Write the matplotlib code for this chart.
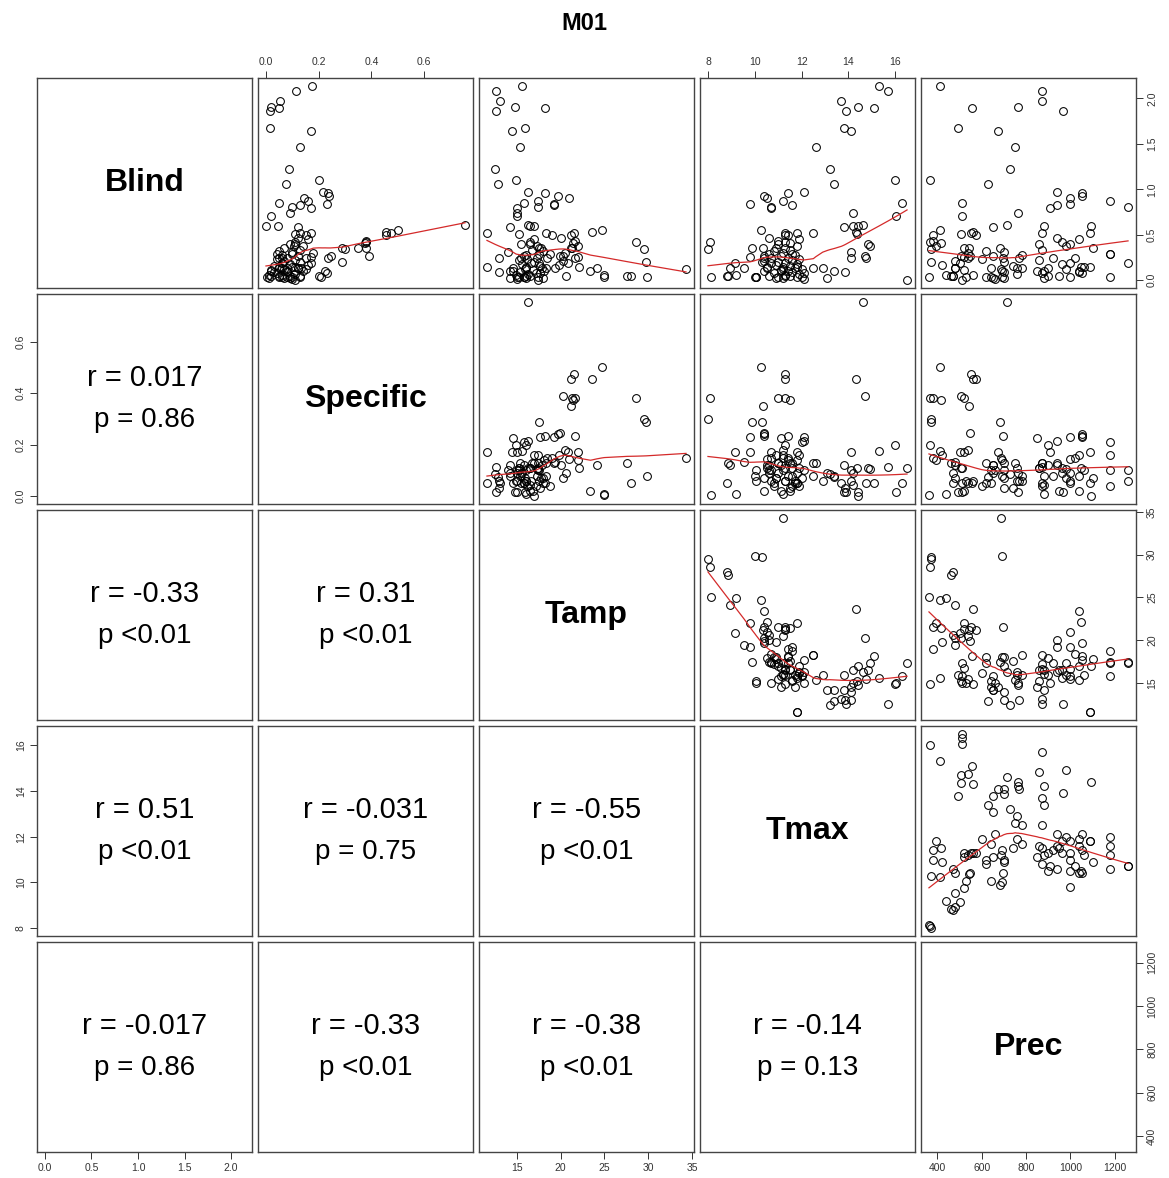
import numpy as np
import matplotlib
matplotlib.use("Agg")
import matplotlib.pyplot as plt

# ---------------- data ----------------
var_names = ["Blind", "Specific", "Tamp", "Tmax", "Prec"]

blind = [2.14, 2.08, 1.97, 1.91, 1.89, 1.86, 1.67, 1.64, 1.47, 1.22, 1.10, 1.06,
         0.97, 0.96, 0.93, 0.90, 0.87, 0.85, 0.84, 0.83, 0.81, 0.80, 0.74, 0.71,
         0.61, 0.60, 0.60, 0.59,
         0.55, 0.52, 0.50, 0.53, 0.27, 0.42, 0.43, 0.41, 0.35, 0.35, 0.34, 0.20,
         0.35, 0.27, 0.24, 0.10, 0.05, 0.08, 0.04,
         0.51, 0.40, 0.38, 0.31, 0.24, 0.24, 0.085, 0.00,
         0.52, 0.13, 0.13, 0.02, 0.10,
         0.03, 0.05, 0.05, 0.14, 0.19, 0.13, 0.26, 0.03, 0.03, 0.03,
         0.50, 0.47, 0.45, 0.42, 0.40, 0.38, 0.36, 0.33, 0.32, 0.30, 0.29, 0.28,
         0.27, 0.25, 0.24, 0.23, 0.22, 0.21, 0.20, 0.19, 0.18, 0.17, 0.16, 0.15,
         0.14, 0.13, 0.12, 0.11, 0.10, 0.09, 0.08, 0.07, 0.06, 0.05, 0.05, 0.04,
         0.03, 0.02, 0.02, 0.01, 0.29, 0.19,
         0.52, 0.15, 0.12, 0.06, 0.10, 0.15]

specific = [0.175, 0.113, 0.052, 0.018, 0.050, 0.017, 0.015, 0.170, 0.128, 0.087, 0.200, 0.075,
            0.215, 0.235, 0.240, 0.143, 0.160, 0.050, 0.230, 0.130, 0.100, 0.170, 0.090, 0.018,
            0.755, 0.000, 0.045, 0.120,
            0.500, 0.475, 0.455, 0.455, 0.390, 0.380, 0.380, 0.375, 0.380, 0.350, 0.300, 0.290,
            0.290, 0.245, 0.235, 0.225, 0.200, 0.230, 0.210,
            0.110, 0.110, 0.105, 0.100, 0.060, 0.050, 0.030, 0.110,
            0.130, 0.080, 0.060, 0.090, 0.080,
            0.005, 0.050, 0.130, 0.120, 0.170, 0.134, 0.170, 0.080, 0.100, 0.060,
            0.150, 0.120, 0.160, 0.110, 0.090, 0.140, 0.070, 0.130, 0.050, 0.180, 0.100, 0.060,
            0.120, 0.080, 0.150, 0.040, 0.110, 0.070, 0.130, 0.060, 0.090, 0.160, 0.030, 0.100,
            0.050, 0.120, 0.070, 0.020, 0.140, 0.080, 0.040, 0.110, 0.060, 0.090, 0.020, 0.130,
            0.050, 0.070, 0.010, 0.100, 0.040, 0.060,
            0.170, 0.050, 0.150, 0.010, 0.020, 0.110]

tamp = [15.6, 12.6, 13.1, 14.8, 18.2, 12.6, 15.9, 14.5, 15.4, 12.5, 14.9, 12.9,
        16.3, 18.2, 19.7, 21.0, 17.4, 15.8, 19.2, 19.2, 17.4, 15.0, 15.0, 15.0,
        16.3, 17.0, 16.5, 14.2,
        24.7, 21.5, 21.2, 23.6, 20.3, 28.6, 21.6, 21.4, 21.3, 21.2, 29.5, 29.7,
        17.5, 19.9, 21.6, 14.6, 16.0, 17.7, 15.8,
        15.2, 16.5, 17.3, 14.0, 13.0, 15.5, 13.0, 17.4,
        18.3, 18.3, 16.0, 14.2, 14.2,
        25.0, 28.0, 27.6, 24.1, 20.8, 19.4, 22.0, 29.8, 15.3, 15.0,
        19.0, 20.0, 17.0, 16.5, 15.5, 22.0, 17.8, 16.7, 18.0, 20.5, 17.5, 16.0,
        15.8, 17.3, 18.4, 16.2, 15.2, 20.3, 17.0, 16.6, 15.6, 19.8, 17.6, 16.0,
        14.6, 17.9, 15.9, 16.8, 18.1, 15.4, 17.2, 16.3, 14.9, 20.6, 16.5, 17.4,
        15.8, 18.0, 16.1, 15.0, 18.8, 17.5,
        11.6, 11.6, 34.3, 24.9, 23.4, 22.1]

tmax = [15.3, 15.7, 13.7, 14.4, 15.1, 13.9, 13.8, 14.1, 12.6, 13.2, 16.0, 13.4,
        12.1, 11.4, 10.4, 10.5, 11.2, 16.3, 9.8, 11.6, 10.7, 10.7, 14.2, 16.05,
        14.6, 14.4, 14.2, 13.8,
        10.25, 11.3, 11.3, 14.3, 14.7, 8.1, 11.0, 11.5, 11.3, 10.35, 8.0, 10.3,
        9.9, 10.4, 10.4, 11.1, 11.3, 12.1, 12.0,
        14.35, 14.85, 14.9, 14.1, 14.1, 14.74, 13.85, 16.5,
        12.5, 12.5, 12.9, 13.1, 13.4,
        8.14, 8.8, 8.85, 8.93, 9.14, 9.54, 9.78, 10.0, 10.05, 10.05,
        11.4, 10.6, 11.9, 11.3, 11.0, 11.8, 10.9, 11.5, 10.8, 11.2, 10.6, 11.7,
        11.1, 11.4, 10.7, 11.9, 11.6, 10.4, 11.0, 11.3, 11.8, 10.9, 11.5, 11.2,
        11.7, 10.5, 12.0, 11.1, 11.4, 11.6, 10.8, 11.9, 11.3, 10.6, 11.5, 11.0,
        11.8, 10.9, 11.2, 12.1, 11.6, 10.7,
        11.8, 11.8, 11.2, 9.2, 10.4, 10.5]

prec = [414, 874, 873, 764, 558, 967, 494, 674, 751, 727, 368, 627,
        940, 1053, 1053, 1000, 1180, 512, 1000, 940, 1260, 909, 765, 512,
        714, 1091, 880, 650,
        412, 550, 573, 560, 505, 368, 380, 417, 520, 541, 370, 370,
        682, 547, 696, 850, 900, 1053, 1180,
        505, 860, 980, 700, 770, 540, 700, 510,
        870, 780, 760, 650, 880,
        362, 470, 460, 480, 500, 480, 520, 690, 640, 530,
        380, 940, 1040, 960, 1000, 395, 1100, 870, 620, 540, 1180, 780,
        650, 920, 1020, 600, 860, 480, 700, 1000, 960, 420, 740, 1060,
        640, 900, 980, 520, 690, 1040, 870, 760, 560, 470, 950, 620,
        1000, 700, 880, 660, 1180, 1260,
        1090, 1090, 686, 440, 1040, 1050]

tick_values = {
    "Blind": [0.0, 0.5, 1.0, 1.5, 2.0],
    "Specific": [0.0, 0.2, 0.4, 0.6],
    "Tamp": [15, 20, 25, 30, 35],
    "Tmax": [8, 10, 12, 14, 16],
    "Prec": [400, 600, 800, 1000, 1200],
}
tick_labels = {
    "Blind": ["0.0", "0.5", "1.0", "1.5", "2.0"],
    "Specific": ["0.0", "0.2", "0.4", "0.6"],
    "Tamp": ["15", "20", "25", "30", "35"],
    "Tmax": ["8", "10", "12", "14", "16"],
    "Prec": ["400", "600", "800", "1000", "1200"],
}

# lower-triangle correlation labels: (row, col) -> (r text, p text)
cor_labels = {
    (1, 0): ("r = 0.017", "p = 0.86"),
    (2, 0): ("r = -0.33", "p <0.01"),
    (2, 1): ("r = 0.31", "p <0.01"),
    (3, 0): ("r = 0.51", "p <0.01"),
    (3, 1): ("r = -0.031", "p = 0.75"),
    (3, 2): ("r = -0.55", "p <0.01"),
    (4, 0): ("r = -0.017", "p = 0.86"),
    (4, 1): ("r = -0.33", "p <0.01"),
    (4, 2): ("r = -0.38", "p <0.01"),
    (4, 3): ("r = -0.14", "p = 0.13"),
}
title = "M01"

# ---------------- helpers ----------------
def lowess(x, y, f=2/3, it=3):
    x = np.asarray(x, float); y = np.asarray(y, float)
    o = np.argsort(x, kind="mergesort")
    x = x[o]; y = y[o]
    n = len(x)
    r = max(2, int(np.ceil(f * n)))
    delta = np.ones(n)
    yest = np.zeros(n)
    for k in range(it + 1):
        for i in range(n):
            d = np.abs(x - x[i])
            h = np.sort(d)[r - 1]
            if h <= 0:
                h = 1e-12
            u = np.clip(d / h, 0, 1)
            w = (1 - u ** 3) ** 3 * delta
            sw = w.sum()
            if sw <= 0:
                yest[i] = y[i]; continue
            xm = (w * x).sum() / sw
            ym = (w * y).sum() / sw
            sxx = (w * (x - xm) ** 2).sum()
            if sxx > 1e-12 * (x.max() - x.min() + 1e-12) ** 2:
                b = (w * (x - xm) * (y - ym)).sum() / sxx
                yest[i] = ym + b * (x[i] - xm)
            else:
                yest[i] = ym
        if k == it:
            break
        res = y - yest
        s = np.median(np.abs(res))
        if s <= 0:
            break
        u = np.clip(res / (6 * s), -1, 1)
        delta = (1 - u ** 2) ** 2
    return x, yest

data = {"Blind": np.array(blind), "Specific": np.array(specific),
        "Tamp": np.array(tamp), "Tmax": np.array(tmax), "Prec": np.array(prec)}

def lims(v):
    lo, hi = v.min(), v.max()
    pad = 0.04 * (hi - lo)
    return lo - pad, hi + pad

# ---------------- figure ----------------
W, H = 1169, 1178
fig = plt.figure(figsize=(W / 100, H / 100), dpi=100)
plt.rcParams["font.family"] = ["Liberation Sans", "DejaVu Sans"]

lefts = [37 + 221 * j for j in range(5)]
tops = [78 + 216 * i for i in range(5)]
pw, ph = 215, 210
frame_col = "#444444"
tick_col = "#333333"

nv = len(var_names)
for i in range(nv):
    for j in range(nv):
        ax = fig.add_axes([lefts[j] / W, 1 - (tops[i] + ph) / H, pw / W, ph / H])
        xv = data[var_names[j]]
        yv = data[var_names[i]]
        for s in ax.spines.values():
            s.set_color(frame_col); s.set_linewidth(1.0)
        ax.set_xlim(*lims(xv))
        ax.set_ylim(*lims(yv))
        ax.set_xticks([]); ax.set_yticks([])
        if i < j:
            ax.plot(xv, yv, linestyle="none", marker="o", markersize=5.6,
                    markerfacecolor="none", markeredgecolor="black", markeredgewidth=0.75)
            lx, ly = lowess(xv, yv)
            ax.plot(lx, ly, color="#d42a2a", linewidth=0.9)
        elif i == j:
            ax.text(0.5, 0.5, var_names[i], transform=ax.transAxes, ha="center",
                    va="center", fontsize=23, fontweight="bold")
        else:
            rt, pt = cor_labels[(i, j)]
            ax.text(0.5, 0.6, rt, transform=ax.transAxes, ha="center", va="center", fontsize=21)
            ax.text(0.5, 0.4, pt, transform=ax.transAxes, ha="center", va="center", fontsize=20)

        name_x = var_names[j]; name_y = var_names[i]
        tick_kw = dict(length=5, width=0.7, colors=tick_col, labelsize=7.5, pad=3)
        # top axis on columns 2 and 4 (1-based) in first row
        if i == 0 and j % 2 == 1:
            ax.set_xticks(tick_values[name_x]); ax.set_xticklabels(tick_labels[name_x])
            ax.tick_params(axis="x", bottom=False, top=True, labelbottom=False, labeltop=True, **tick_kw)
        if i == nv - 1 and j % 2 == 0:
            ax.set_xticks(tick_values[name_x]); ax.set_xticklabels(tick_labels[name_x])
            ax.tick_params(axis="x", bottom=True, top=False, labelbottom=True, **tick_kw)
        if j == 0 and i % 2 == 1:
            ax.set_yticks(tick_values[name_y])
            ax.set_yticklabels(tick_labels[name_y], rotation=90, va="center")
            ax.tick_params(axis="y", left=True, right=False, labelleft=True, **tick_kw)
        if j == nv - 1 and i % 2 == 0:
            ax.set_yticks(tick_values[name_y])
            ax.set_yticklabels(tick_labels[name_y], rotation=90, va="center")
            ax.tick_params(axis="y", left=False, right=True, labelleft=False, labelright=True, **tick_kw)

fig.text(0.5, 1 - 24 / H, title, ha="center", va="center", fontsize=17, fontweight="bold")
fig.savefig("out.png", dpi=100, facecolor="white")
